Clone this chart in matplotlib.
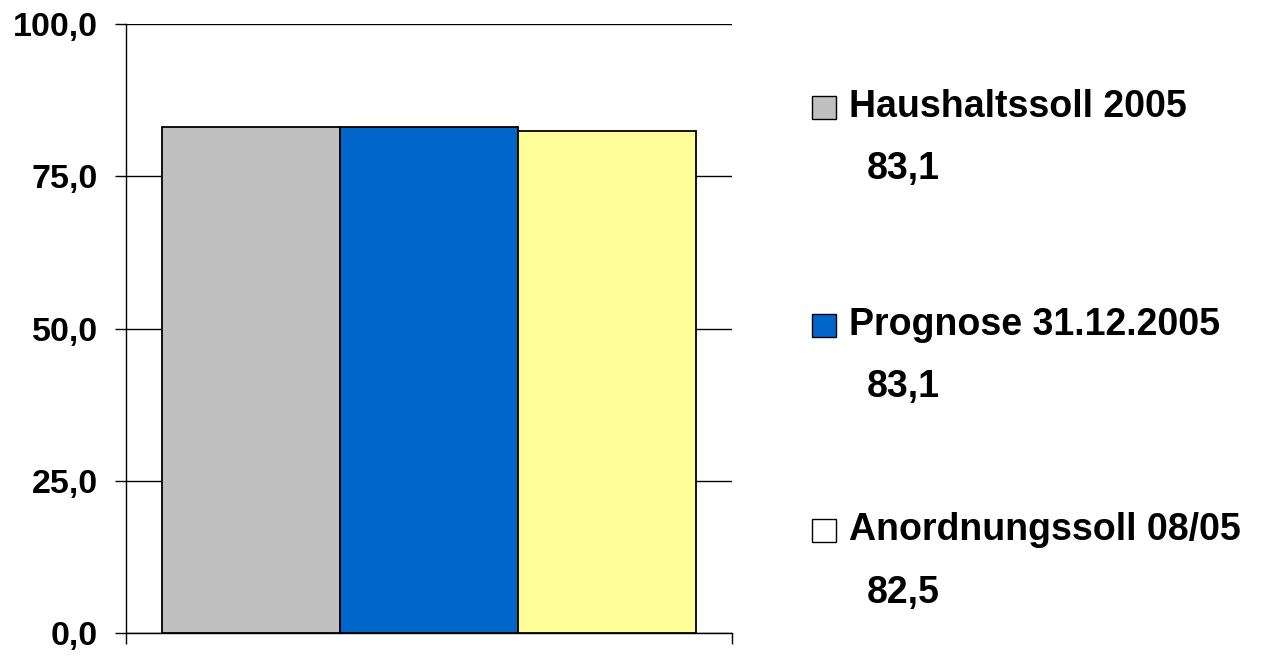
import matplotlib
matplotlib.use("Agg")
import matplotlib.pyplot as plt
from matplotlib.patches import Rectangle

plt.rcParams['font.family'] = ['Liberation Sans', 'DejaVu Sans']

series = ["Haushaltssoll 2005", "Prognose 31.12.2005", "Anordnungssoll 08/05"]
values = [83.1, 83.1, 82.5]
bar_colors = ["#C0C0C0", "#0066CC", "#FFFF99"]
legend_colors = ["#C0C0C0", "#0066CC", "#FFFFFF"]
yticks = [0, 25, 50, 75, 100]
ytick_labels = ["0,0", "25,0", "50,0", "75,0", "100,0"]

W, H = 1287, 656
fig = plt.figure(figsize=(W / 100, H / 100), dpi=100)
ax = fig.add_axes([126 / W, (H - 633) / H, 606 / W, 609 / H])

xs = list(range(len(values)))
ax.bar(xs, values, width=1.0, color=bar_colors, edgecolor="black", linewidth=1.3, zorder=3)

ax.set_xlim(-0.7, 2.7)
ax.set_ylim(0, 100)
ax.set_yticks(yticks)
ax.set_yticklabels(ytick_labels, fontsize=24.5, fontweight="bold")
ax.yaxis.grid(True, color="black", linewidth=1.0, zorder=0)
ax.set_axisbelow(True)
ax.tick_params(axis="y", length=8, width=1.0, pad=12, direction="out")
ax.set_xticks([-0.7, 2.7])
ax.set_xticklabels(["", ""])
ax.tick_params(axis="x", length=8, width=1.0, direction="out")
for s in ["top", "right"]:
    ax.spines[s].set_visible(False)
ax.spines["left"].set_linewidth(1.0)
ax.spines["bottom"].set_linewidth(1.0)

heading_base = [117, 335, 540]
value_base = [179, 397, 603]
for i, name in enumerate(series):
    yb = heading_base[i]
    fig.patches.append(Rectangle((812 / W, (H - yb - 2) / H), 24 / W, 23 / H,
                                 transform=fig.transFigure, facecolor=legend_colors[i],
                                 edgecolor="black", linewidth=1.0))
    fig.text(849 / W, (H - yb) / H, name, fontsize=27, fontweight="bold",
             va="baseline", ha="left")
    fig.text(867 / W, (H - value_base[i]) / H, f"{values[i]:.1f}".replace(".", ","),
             fontsize=27, fontweight="bold", va="baseline", ha="left")

fig.savefig("out.png", dpi=100)
